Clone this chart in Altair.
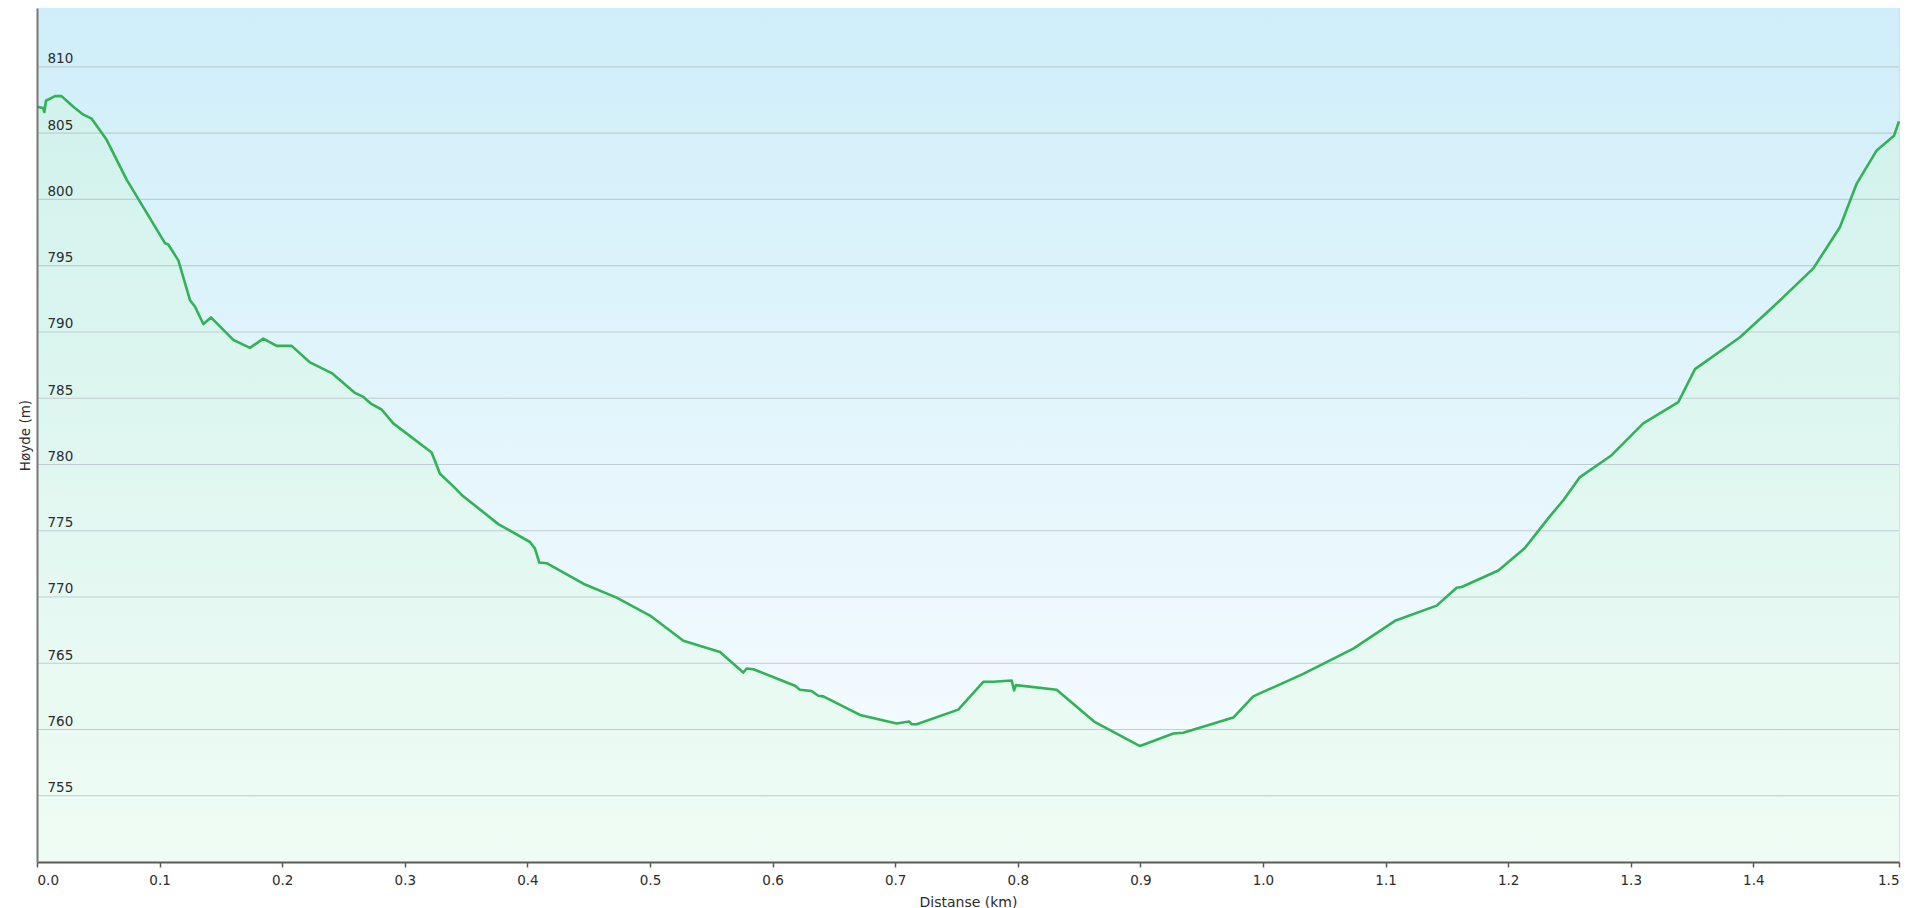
import altair as alt
import pandas as pd

# ---- data ----
distance_km = [
    0.0000, 0.0050, 0.0060, 0.0073, 0.0147, 0.0200, 0.0296, 0.0378, 0.0446, 0.0568,
    0.0731, 0.1044, 0.1071, 0.1153, 0.1248, 0.1289, 0.1357, 0.1419, 0.1601, 0.1737,
    0.1846, 0.1955, 0.2077, 0.2227, 0.2404, 0.2594, 0.2662, 0.2730, 0.2811, 0.2906,
    0.3219, 0.3287, 0.3396, 0.3464, 0.3763, 0.4021, 0.4062, 0.4097, 0.4157, 0.4456,
    0.4728, 0.5000, 0.5272, 0.5571, 0.5761, 0.5788, 0.5843, 0.6060, 0.6183, 0.6223,
    0.6319, 0.6373, 0.6414, 0.6713, 0.7012, 0.7115, 0.7134, 0.7175, 0.7515, 0.7719,
    0.7800, 0.7950, 0.7970, 0.7985, 0.8317, 0.8630, 0.8997, 0.9269, 0.9350, 0.9758,
    0.9921, 1.0329, 1.0737, 1.1077, 1.1417, 1.1580, 1.1621, 1.1920, 1.2137, 1.2341,
    1.2450, 1.2586, 1.2844, 1.3102, 1.3388, 1.3524, 1.3891, 1.4162, 1.4489, 1.4706,
    1.4843, 1.5006, 1.5147, 1.5188,
]
elevation_m = [
    807.0, 806.9, 806.6, 807.45, 807.8, 807.8, 807.0, 806.4, 806.1, 804.5,
    801.5, 796.7, 796.6, 795.4, 792.4, 791.9, 790.6, 791.1, 789.4, 788.8,
    789.5, 788.95, 788.95, 787.7, 786.9, 785.4, 785.1, 784.55, 784.15, 783.1,
    780.9, 779.3, 778.35, 777.7, 775.5, 774.15, 773.65, 772.6, 772.55, 771.0,
    769.95, 768.6, 766.7, 765.85, 764.3, 764.6, 764.55, 763.75, 763.3, 763.0,
    762.9, 762.55, 762.5, 761.1, 760.45, 760.6, 760.4, 760.4, 761.5, 763.6,
    763.6, 763.7, 762.95, 763.35, 763.0, 760.55, 758.75, 759.7, 759.75, 760.9,
    762.5, 764.2, 766.1, 768.2, 769.35, 770.7, 770.75, 772.0, 773.7, 776.1,
    777.3, 779.05, 780.7, 783.1, 784.7, 787.2, 789.6, 791.9, 794.8, 797.9,
    801.2, 803.7, 804.8, 805.9,
]
x_tick_values = [0.0, 0.1, 0.2, 0.3, 0.4, 0.5, 0.6, 0.7, 0.8, 0.9, 1.0, 1.1, 1.2, 1.3, 1.4, 1.5188]
y_tick_values = [755, 760, 765, 770, 775, 780, 785, 790, 795, 800, 805, 810]
x_domain = [0.0, 1.5188]
y_domain = [750.0, 814.45]

W, H = 1862, 854
FONT = "DejaVu Sans"

df = pd.DataFrame({"dist": distance_km, "elev": elevation_m})
grid_df = pd.DataFrame({"g": y_tick_values})

xscale = alt.Scale(domain=x_domain, nice=False, zero=False)
yscale = alt.Scale(domain=y_domain, nice=False, zero=False)

x_axis = alt.Axis(
    values=x_tick_values, format=".1f", title="Distanse (km)", grid=False,
    domainColor="#5a5a5a", domainWidth=2, tickColor="#5a5a5a", tickSize=5, tickWidth=1.5,
    labelFont=FONT, labelFontSize=13.5, labelColor="#2b2b2b", labelPadding=6,
    labelFlush=True, labelOverlap=False,
    titleFont=FONT, titleFontSize=14, titleFontWeight="normal", titleColor="#2b2b2b",
    titleY=33, titleBaseline="top", zindex=1,
)
y_axis = alt.Axis(
    values=y_tick_values, title="Høyde (m)", grid=False,
    domainColor="#777777", domainWidth=2, ticks=False, tickSize=0,
    labelAlign="left", labelPadding=-10, labelBaseline="alphabetic", labelOffset=-4,
    labelFont=FONT, labelFontSize=13.5, labelColor="#2b2b2b", labelFlush=False, labelOverlap=False,
    titleFont=FONT, titleFontSize=13.5, titleFontWeight="normal", titleColor="#2b2b2b",
    titleX=-12, titleY=H / 2, titleAngle=270, titleBaseline="middle", titleAlign="center",
    zindex=1,
)

bg = alt.Chart(pd.DataFrame({"a": [0]})).mark_rect(
    color=alt.Gradient(
        gradient="linear",
        stops=[alt.GradientStop(color="#cfeef9", offset=0),
               alt.GradientStop(color="#f9fdff", offset=1)],
        x1=0, x2=0, y1=0, y2=1,
    )
).encode(x=alt.value(0), x2=alt.value(W), y=alt.value(0), y2=alt.value(H))

area = alt.Chart(df).mark_area(
    color=alt.Gradient(
        gradient="linear",
        stops=[alt.GradientStop(color="#d2f2ed", offset=0),
               alt.GradientStop(color="#effcf4", offset=1)],
        x1=0, x2=0, y1=0, y2=1,
    )
).encode(
    x=alt.X("dist:Q", scale=xscale, axis=x_axis),
    y=alt.Y("elev:Q", scale=yscale, axis=y_axis),
    y2=alt.datum(y_domain[0]),
)

grid = alt.Chart(grid_df).mark_rule(color="#bfcdd2", strokeWidth=1.2).encode(
    y=alt.Y("g:Q", scale=yscale)
)

line = alt.Chart(df).mark_line(color="#30b257", strokeWidth=2.6, strokeJoin="round").encode(
    x=alt.X("dist:Q", scale=xscale),
    y=alt.Y("elev:Q", scale=yscale),
)

chart = alt.layer(bg, area, grid, line).properties(
    width=W, height=H,
    autosize=alt.AutoSizeParams(type="none"),
    padding={"left": 29, "top": 0, "right": 6, "bottom": 50},
).configure_view(stroke="#c5cbce", strokeWidth=1).configure(font=FONT)

chart.save("out.html", embed_options={"renderer": "svg", "actions": False})
